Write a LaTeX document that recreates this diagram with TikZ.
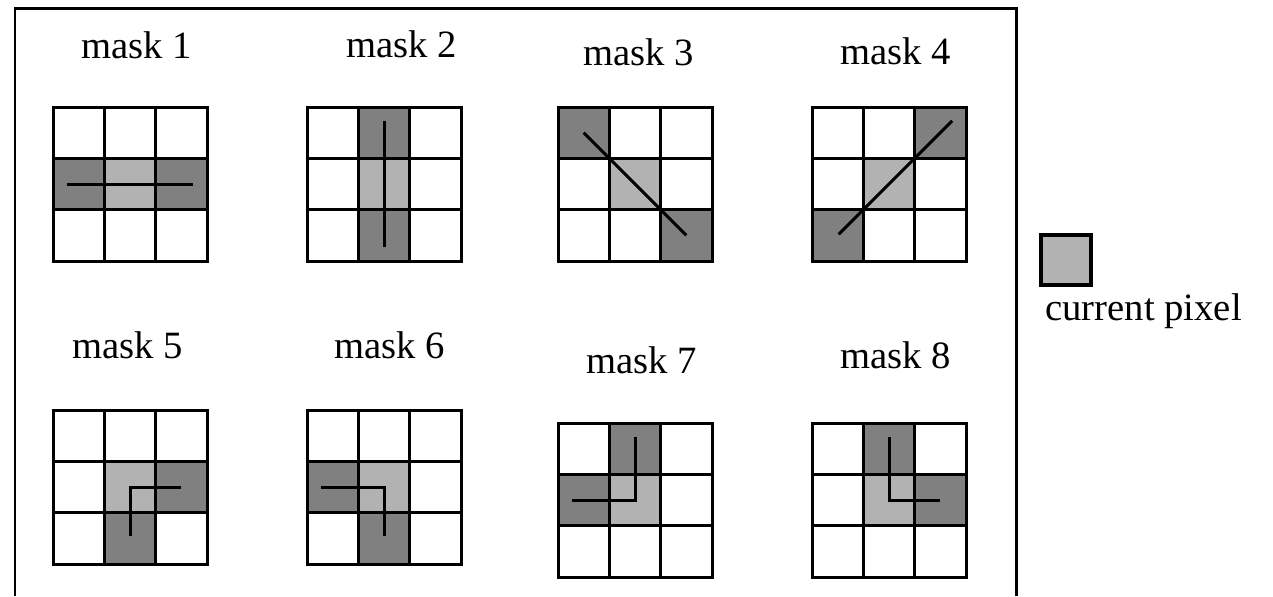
\documentclass[tikz,border=0pt]{standalone}
\usepackage{fontspec}
\setmainfont{Liberation Serif}
\usepackage{tikz}

% 3x3 pixel grid, drawn in cell units
\newcommand{\maskgrid}{\draw[gridline] (0,0) rectangle (3,3) (1,0) -- (1,3) (2,0) -- (2,3) (0,1) -- (3,1) (0,2) -- (3,2);}

\begin{document}
\begin{tikzpicture}[
    x=0.02cm, y=-0.02cm,
    gridline/.style={line width=0.06cm},
    edgeline/.style={line width=0.06cm},
    frameline/.style={line width=0.06cm},
    dark/.style={fill=black!50},
    centre/.style={fill=black!30},
    cellunit/.style={x=1.027cm, y=-1.027cm},
    masklabel/.style={anchor=base, inner sep=0pt, font=\fontsize{22}{26}\selectfont}
]
\useasboundingbox (0,0) rectangle (1273,596);

% outer frame (open at the bottom)
\draw[frameline] (15,596) -- (15,8) -- (1016,8) -- (1016,596);

% labels
\node[masklabel] (m1) at (137,58) {mask 1};
\node[masklabel] (m2) at (402,57) {mask 2};
\node[masklabel] (m3) at (639,65) {mask 3};
\node[masklabel] (m4) at (896,64) {mask 4};
\node[masklabel] (m5) at (128,358) {mask 5};
\node[masklabel] (m6) at (390,358) {mask 6};
\node[masklabel] (m7) at (642,373) {mask 7};
\node[masklabel] (m8) at (896,368) {mask 8};

% mask 1
\begin{scope}[shift={(53,107)}, cellunit]
\fill[dark] (0,1) rectangle (1,2) (2,1) rectangle (3,2);
\fill[centre] (1,1) rectangle (2,2);
\maskgrid
\draw[edgeline] (0.27,1.5) -- (2.73,1.5);
\end{scope}

% mask 2
\begin{scope}[shift={(307,107)}, cellunit]
\fill[dark] (1,0) rectangle (2,1) (1,2) rectangle (2,3);
\fill[centre] (1,1) rectangle (2,2);
\maskgrid
\draw[edgeline] (1.5,0.27) -- (1.5,2.73);
\end{scope}

% mask 3
\begin{scope}[shift={(558,107)}, cellunit]
\fill[dark] (0,0) rectangle (1,1) (2,2) rectangle (3,3);
\fill[centre] (1,1) rectangle (2,2);
\maskgrid
\draw[edgeline] (0.5,0.5) -- (2.5,2.5);
\end{scope}

% mask 4
\begin{scope}[shift={(812,107)}, cellunit]
\fill[dark] (2,0) rectangle (3,1) (0,2) rectangle (1,3);
\fill[centre] (1,1) rectangle (2,2);
\maskgrid
\draw[edgeline] (0.52,2.48) -- (2.73,0.27);
\end{scope}

% mask 5
\begin{scope}[shift={(53,410)}, cellunit]
\fill[dark] (2,1) rectangle (3,2) (1,2) rectangle (2,3);
\fill[centre] (1,1) rectangle (2,2);
\maskgrid
\draw[edgeline] (2.5,1.5) -- (1.5,1.5) -- (1.5,2.45);
\end{scope}

% mask 6
\begin{scope}[shift={(307,410)}, cellunit]
\fill[dark] (0,1) rectangle (1,2) (1,2) rectangle (2,3);
\fill[centre] (1,1) rectangle (2,2);
\maskgrid
\draw[edgeline] (0.27,1.5) -- (1.5,1.5) -- (1.5,2.45);
\end{scope}

% mask 7
\begin{scope}[shift={(558,423)}, cellunit]
\fill[dark] (1,0) rectangle (2,1) (0,1) rectangle (1,2);
\fill[centre] (1,1) rectangle (2,2);
\maskgrid
\draw[edgeline] (1.5,0.27) -- (1.5,1.5) -- (0.27,1.5);
\end{scope}

% mask 8
\begin{scope}[shift={(812,423)}, cellunit]
\fill[dark] (1,0) rectangle (2,1) (2,1) rectangle (3,2);
\fill[centre] (1,1) rectangle (2,2);
\maskgrid
\draw[edgeline] (1.5,0.27) -- (1.5,1.5) -- (2.5,1.5);
\end{scope}

% legend
\node[draw, centre, line width=0.08cm, minimum size=1.0cm, inner sep=0pt] (curpix) at (1066,259.5) {};
\node[masklabel, anchor=base west] (curtext) at (1045,320) {current pixel};
\end{tikzpicture}
\end{document}
